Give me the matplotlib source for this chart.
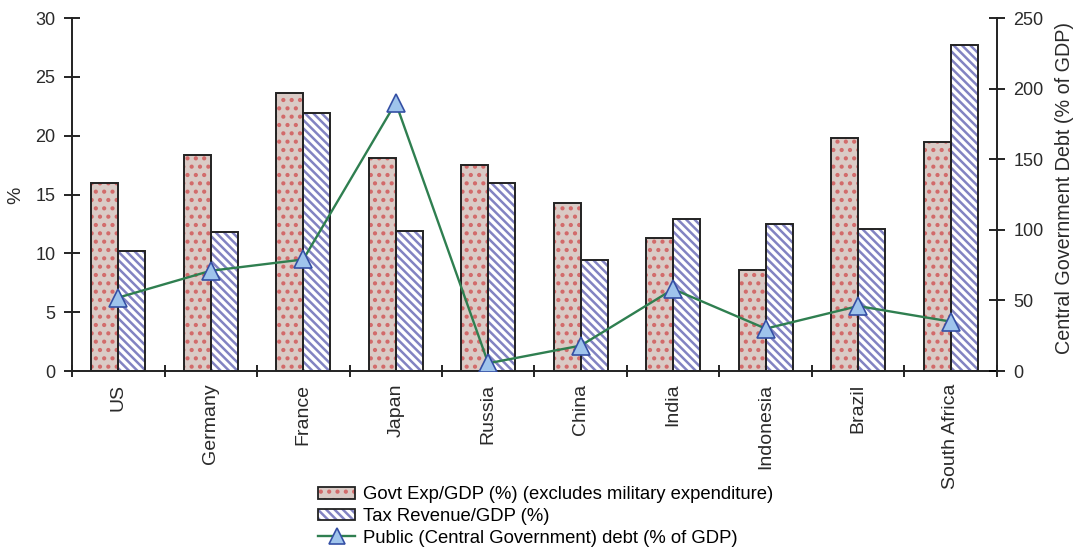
import matplotlib
matplotlib.use("Agg")
import matplotlib.pyplot as plt
import numpy as np
from matplotlib.patches import Patch
from matplotlib.lines import Line2D
from matplotlib.legend_handler import HandlerTuple

plt.rcParams['font.family'] = ['Liberation Sans', 'DejaVu Sans']
plt.rcParams['hatch.linewidth'] = 1.8

countries = ["US", "Germany", "France", "Japan", "Russia", "China",
             "India", "Indonesia", "Brazil", "South Africa"]
govt_exp = [16.0, 18.4, 23.6, 18.1, 17.5, 14.3, 11.3, 8.6, 19.8, 19.5]
tax_rev = [10.2, 11.8, 21.9, 11.9, 16.0, 9.4, 12.9, 12.5, 12.1, 27.7]
debt = [52, 71, 79, 190, 5.5, 18, 58, 30, 46, 35]

left_ticks = [0, 5, 10, 15, 20, 25, 30]
right_ticks = [0, 50, 100, 150, 200, 250]

exp_face = "#dacbc6"
exp_dots = "#d26a6a"
tax_face = "#ffffff"
tax_lines = "#8283c2"
line_col = "#2f7f50"
mk_face = "#9fc4ec"
mk_edge = "#3550a5"
txt_col = "#2a2a2a"

W, H = 1075, 554
fig = plt.figure(figsize=(W / 100, H / 100), dpi=100)
ax = fig.add_axes([0.067, 0.3303, 0.8604, 0.6372])

x = np.arange(len(countries)) + 0.5
w = 0.29
dot_hatch = ".."
stripe_hatch = "\\\\\\\\"

# expenditure bars: fill, dot hatch, outline
ax.bar(x - w / 2, govt_exp, w, color=exp_face, linewidth=0, zorder=2)
ax.bar(x - w / 2, govt_exp, w, facecolor="none", edgecolor=exp_dots,
       hatch=dot_hatch, linewidth=0, zorder=3)
ax.bar(x - w / 2, govt_exp, w, facecolor="none", edgecolor="#222222",
       linewidth=1.4, zorder=4)

# tax revenue bars: white fill, diagonal stripes, outline
ax.bar(x + w / 2, tax_rev, w, color=tax_face, linewidth=0, zorder=2)
ax.bar(x + w / 2, tax_rev, w, facecolor="none", edgecolor=tax_lines,
       hatch=stripe_hatch, linewidth=0, zorder=3)
ax.bar(x + w / 2, tax_rev, w, facecolor="none", edgecolor="#222222",
       linewidth=1.4, zorder=4)

ax.set_xlim(0, len(countries))
ax.set_ylim(0, 30)
ax.set_yticks(left_ticks)

ax.set_xticks(np.arange(len(countries) + 1), minor=False)
ax.set_xticklabels([])
ax.set_xticks(x, minor=True)
ax.set_xticklabels(countries, minor=True, rotation=90, fontsize=14,
                   color=txt_col)
ax.tick_params(axis="x", which="minor", length=0, pad=9)
ax.tick_params(axis="x", which="major", direction="inout", length=9,
               width=1.2)
ax.tick_params(axis="y", direction="inout", length=12, width=1.2,
               labelsize=13, labelcolor=txt_col, pad=6)

for s in ["top", "right"]:
    ax.spines[s].set_visible(False)
for s in ["left", "bottom"]:
    ax.spines[s].set_linewidth(1.4)
    ax.spines[s].set_color("#222222")

ax2 = ax.twinx()
ax2.plot(x, debt, color=line_col, linewidth=1.7, marker="^",
         markersize=13, markerfacecolor=mk_face, markeredgecolor=mk_edge,
         markeredgewidth=1.2, zorder=5)
ax2.set_ylim(0, 250)
ax2.set_yticks(right_ticks)
ax2.tick_params(axis="y", direction="inout", length=12, width=1.2,
                labelsize=13, labelcolor=txt_col, pad=6)
for s in ["top", "left", "bottom"]:
    ax2.spines[s].set_visible(False)
ax2.spines["right"].set_linewidth(1.4)
ax2.spines["right"].set_color("#222222")

# axis titles
fig.text(16 / W, 1 - 195 / H, "%", rotation=90, ha="center", va="center",
         fontsize=14, color=txt_col)
fig.text(1064 / W, 1 - 188 / H, "Central Government Debt (% of GDP)",
         rotation=90, ha="center", va="center", fontsize=14.2, color=txt_col)

h_exp = (Patch(facecolor=exp_face, edgecolor="none"),
         Patch(facecolor="none", edgecolor=exp_dots, hatch=dot_hatch, linewidth=0),
         Patch(facecolor="none", edgecolor="#222222", linewidth=1.3))
h_tax = (Patch(facecolor=tax_face, edgecolor="none"),
         Patch(facecolor="none", edgecolor=tax_lines, hatch=stripe_hatch, linewidth=0),
         Patch(facecolor="none", edgecolor="#222222", linewidth=1.3))
h_debt = Line2D([], [], color=line_col, linewidth=1.7, marker="^",
                markersize=12, markerfacecolor=mk_face,
                markeredgecolor=mk_edge, markeredgewidth=1.2)

fig.legend([h_exp, h_tax, h_debt],
           ["Govt Exp/GDP (%) (excludes military expenditure)",
            "Tax Revenue/GDP (%)",
            "Public (Central Government) debt (% of GDP)"],
           handler_map={tuple: HandlerTuple(ndivide=1, pad=0)},
           loc="upper left", bbox_to_anchor=(0.296, 0.122),
           frameon=False, fontsize=13.3, handlelength=2.0, handleheight=0.6,
           handletextpad=0.4, labelspacing=0.25, borderpad=0,
           borderaxespad=0)

fig.savefig("out.png", dpi=100)
